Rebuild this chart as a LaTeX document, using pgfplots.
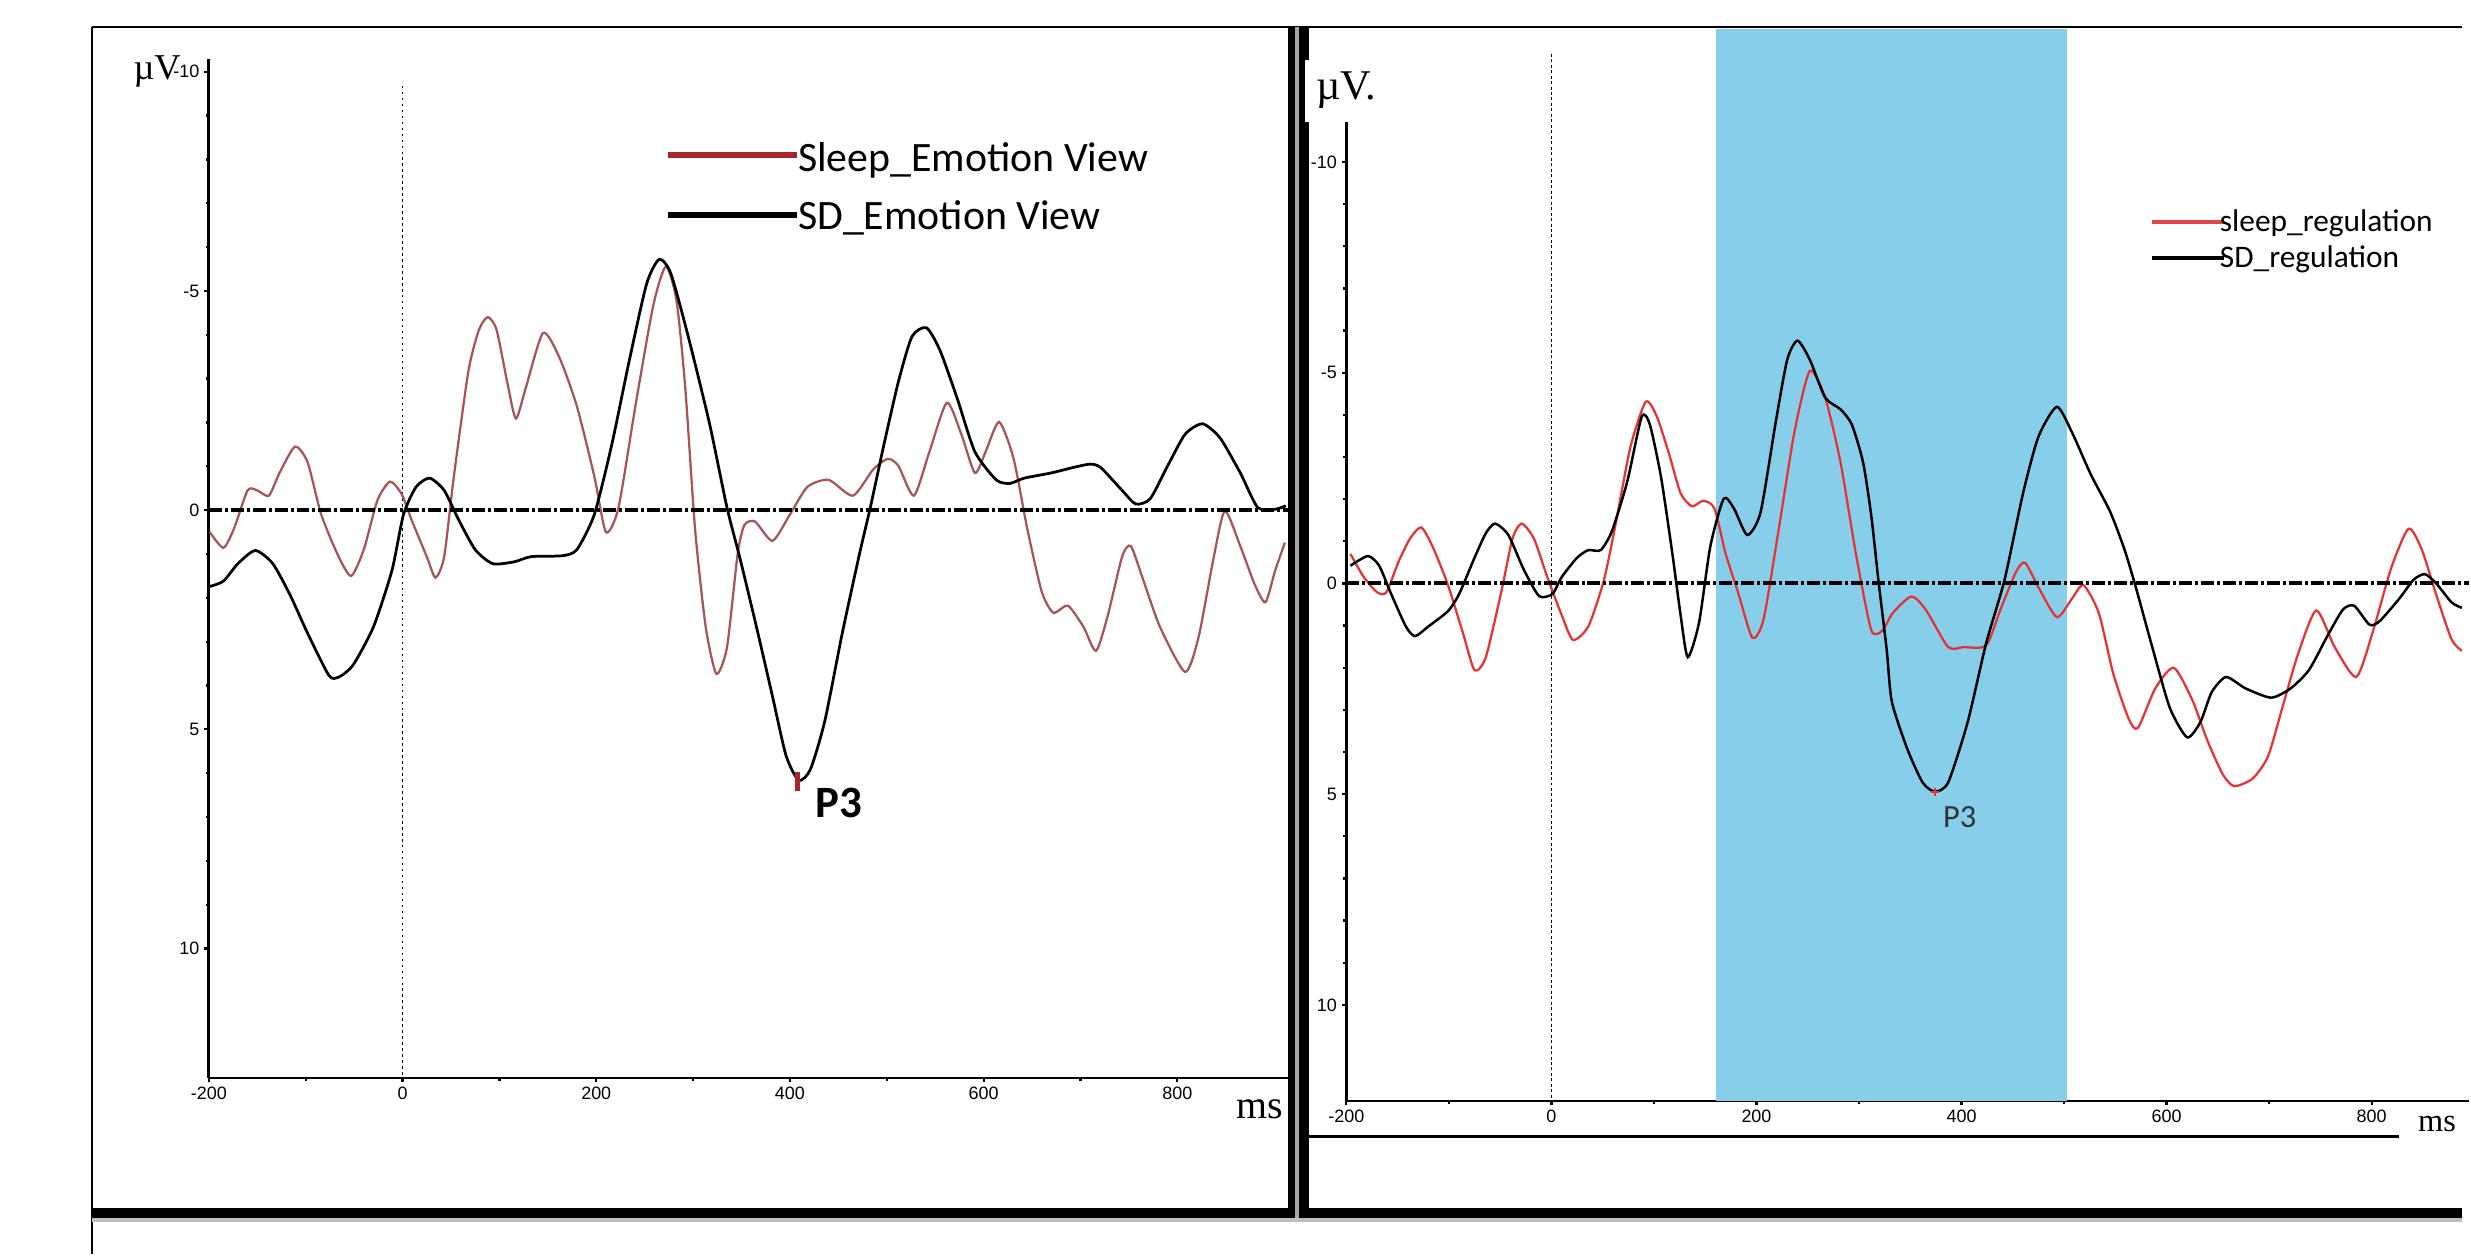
\documentclass[border=0pt]{standalone}
\usepackage{pgfplots}
\pgfplotsset{compat=1.18}
\usepackage{fontspec}
\setmainfont{Liberation Serif}
\newfontfamily\calfont{Carlito}
\newfontfamily\arialfont{Liberation Sans}
\definecolor{band}{RGB}{135,206,235}
\definecolor{lred}{RGB}{165,85,85}
\definecolor{lredleg}{RGB}{170,35,45}
\definecolor{rred}{RGB}{230,50,50}
\definecolor{rredleg}{RGB}{225,70,70}

\pgfplotsset{erp/.style={scale only axis, y dir=reverse,
  axis x line=bottom, axis y line=left,
  axis line style={-, line width=0.55pt},
  tick align=outside, major tick length=0.9pt, minor tick length=0.6pt,
  every tick/.style={black, line width=0.45pt},
  xtick={-200,0,200,400,600,800}, minor x tick num=1,
  ytick={-10,-5,0,5,10}, minor y tick num=4,
  /pgf/number format/assume math mode=true,
  ticklabel style={font=\arialfont\fontsize{3.6}{4}\selectfont, inner sep=0.8pt},
  clip=false}}

\begin{document}
\begin{tikzpicture}
\begin{scope}[x=0.2pt,y=-0.2pt]
\path[use as bounding box] (0,0) rectangle (2471,1259);
\end{scope}

% ---------- left panel ----------
\begin{axis}[erp, at={(150.2pt,-114.06pt)}, anchor=center,
  width=216.56pt, height=204.6pt,
  xmin=-200, xmax=914, ymin=-10.3, ymax=12.95]
\addplot[black, line width=0.35pt, dash pattern=on 0.5pt off 0.7pt] coordinates {(0,-9.68) (0,12.95)};
\addplot[lred, line width=0.45pt, smooth, tension=0.4] coordinates {
(-199,0.50) (-185,0.86) (-174,0.42) (-160,-0.45) (-150,-0.45) (-138,-0.33) (-127,-0.85) (-111,-1.45) (-98,-1.09) (-84,0.10) (-66,1.06) (-53,1.50) (-40,0.90) (-26,-0.22) (-13,-0.65) (-1,-0.37) (10,0.26) (25,1.06) (34,1.54) (43,1.06) (53,-0.77) (68,-3.17) (79,-4.12) (88,-4.40) (97,-4.12) (108,-2.93) (117,-2.09) (127,-2.77) (145,-4.04) (162,-3.48) (180,-2.37) (198,-0.77) (210,0.50) (223,-0.06) (241,-2.45) (259,-4.68) (272,-5.56) (283,-4.76) (292,-2.77) (302,0.42) (313,2.66) (324,3.73) (335,3.13) (346,1.00) (353,0.34) (364,0.26) (382,0.70) (400,0.10) (418,-0.53) (440,-0.69) (465,-0.33) (486,-0.93) (501,-1.17) (512,-1.01) (528,-0.33) (544,-1.33) (562,-2.45) (577,-1.73) (591,-0.85) (602,-1.33) (616,-2.01) (631,-1.17) (645,0.42) (660,1.86) (672,2.34) (687,2.18) (703,2.66) (716,3.21) (728,2.42) (743,1.06) (752,0.82) (764,1.54) (782,2.66) (808,3.69) (822,2.89) (837,1.14) (849,0.02) (865,0.82) (880,1.70) (891,2.10) (901,1.38) (911,0.74)};
\addplot[black, line width=0.55pt, smooth, tension=0.4] coordinates {
(-199,1.74) (-185,1.62) (-170,1.22) (-152,0.92) (-134,1.22) (-116,1.94) (-98,2.81) (-76,3.77) (-66,3.81) (-51,3.53) (-30,2.66) (-11,1.38) (1,0.10) (14,-0.53) (28,-0.73) (43,-0.45) (57,0.18) (75,0.90) (93,1.22) (115,1.18) (133,1.06) (165,1.04) (180,0.90) (198,0.10) (216,-1.49) (234,-3.40) (252,-5.16) (265,-5.72) (277,-5.40) (295,-3.96) (317,-1.97) (335,-0.06) (349,1.15) (367,2.81) (382,4.25) (396,5.60) (409,6.16) (421,5.92) (436,4.81) (454,2.81) (472,0.98) (483,-0.06) (497,-1.49) (512,-2.93) (526,-3.96) (541,-4.16) (555,-3.64) (573,-2.53) (591,-1.33) (613,-0.69) (627,-0.61) (642,-0.73) (670,-0.85) (692,-0.97) (710,-1.05) (721,-0.97) (743,-0.45) (757,-0.14) (772,-0.26) (790,-1.01) (808,-1.73) (826,-1.97) (844,-1.65) (865,-0.85) (883,-0.06) (901,-0.02) (912,-0.10)};
\addplot[black, line width=0.8pt, dash pattern=on 2.6pt off 0.6pt on 0.6pt off 0.6pt] coordinates {(-200,0) (914,0)};
\addplot[lredleg, only marks, mark=|, mark size=1.9pt, mark options={line width=1.1pt}] coordinates {(408,6.2)};
\node[anchor=base west, inner sep=0, font=\calfont\bfseries\fontsize{9}{10}\selectfont] at (axis cs:425,7.02) {P3};
\end{axis}

% ---------- right panel ----------
\begin{axis}[erp, at={(382.92pt,-122.78pt)}, anchor=center,
  width=225.35pt, height=196.44pt,
  xmin=-200, xmax=895, ymin=-10.94, ymax=12.28]
\addplot[fill=band, draw=none] coordinates {(161,-13.16) (503,-13.16) (503,12.28) (161,12.28)} -- cycle;
\addplot[black, line width=0.35pt, dash pattern=on 0.6pt off 0.5pt] coordinates {(0,-12.57) (0,12.28)};
\addplot[rred, line width=0.45pt, smooth, tension=0.4] coordinates {
(-196,-0.70) (-183,-0.15) (-170,0.21) (-161,0.21) (-149,-0.52) (-138,-1.06) (-127,-1.33) (-116,-0.88) (-101,0.03) (-86,1.20) (-75,2.06) (-64,1.75) (-49,0.21) (-38,-1.06) (-29,-1.42) (-17,-1.06) (-4,-0.15) (10,0.75) (21,1.34) (36,1.02) (51,-0.06) (62,-1.33) (77,-3.23) (92,-4.31) (103,-3.95) (115,-3.05) (126,-2.14) (137,-1.83) (148,-1.96) (159,-1.78) (170,-0.70) (182,0.21) (196,1.29) (207,0.84) (222,-1.33) (237,-3.59) (252,-5.04) (267,-4.41) (282,-2.87) (297,-0.70) (312,1.11) (323,1.11) (333,0.70) (351,0.31) (365,0.62) (387,1.51) (402,1.51) (424,1.47) (438,0.62) (453,-0.27) (462,-0.49) (475,0.09) (493,0.80) (508,0.35) (519,0.04) (534,0.71) (548,2.14) (563,3.21) (572,3.43) (589,2.49) (607,2.00) (625,2.76) (640,3.74) (655,4.54) (666,4.81) (684,4.63) (699,4.10) (713,2.94) (728,1.69) (746,0.64) (764,1.51) (785,2.22) (801,1.16) (819,-0.36) (836,-1.30) (849,-0.80) (863,0.27) (878,1.33) (888,1.60)};
\addplot[black, line width=0.5pt, smooth, tension=0.4] coordinates {
(-196,-0.42) (-179,-0.65) (-168,-0.42) (-157,0.21) (-142,1.02) (-133,1.25) (-120,1.02) (-101,0.66) (-90,0.25) (-75,-0.61) (-64,-1.19) (-55,-1.42) (-42,-1.15) (-27,-0.33) (-12,0.30) (1,0.25) (10,-0.15) (25,-0.61) (36,-0.79) (48,-0.79) (59,-1.24) (74,-2.42) (88,-3.95) (96,-3.77) (107,-2.51) (118,-0.70) (126,0.75) (133,1.75) (144,0.93) (155,-0.88) (168,-2.01) (178,-1.78) (191,-1.15) (204,-1.69) (219,-3.86) (230,-5.31) (240,-5.76) (252,-5.31) (267,-4.41) (282,-4.13) (293,-3.77) (304,-2.87) (312,-1.60) (319,-0.06) (327,1.57) (332,2.80) (347,3.92) (362,4.72) (374,4.94) (387,4.72) (406,3.29) (424,1.42) (442,-0.09) (460,-2.14) (475,-3.48) (493,-4.19) (508,-3.57) (526,-2.59) (545,-1.70) (559,-0.80) (570,0.09) (585,1.42) (603,2.94) (620,3.65) (633,3.29) (644,2.58) (658,2.22) (677,2.49) (702,2.71) (721,2.49) (739,2.05) (757,1.24) (772,0.62) (783,0.53) (798,0.98) (808,0.89) (827,0.36) (841,-0.09) (852,-0.22) (863,0.00) (878,0.45) (888,0.58)};
\addplot[black, line width=0.8pt, dash pattern=on 2.6pt off 0.6pt on 0.6pt off 0.6pt] coordinates {(-200,0) (895,0)};
\addplot[rred, only marks, mark=+, mark size=0.8pt, mark options={line width=0.4pt}] coordinates {(374,4.94)};
\node[anchor=base west, inner sep=0, text=black!80, font=\calfont\fontsize{6.5}{7}\selectfont] at (axis cs:381,5.80) {P3};
\end{axis}

% ---------- frame, labels, legends ----------
\begin{scope}[x=0.2pt,y=-0.2pt]
\draw[line width=0.4pt] (92,27) -- (2471,27);
\draw[line width=0.4pt] (92,27) -- (92,1259);
\fill[black] (92,1212) rectangle (2471,1222);
\fill[black!25] (92,1222) rectangle (2471,1226);
\fill[black] (1293,27) rectangle (1314,1222);
\fill[black!35] (1300,27) rectangle (1304,1222);
\fill[white] (1310,60) rectangle (1385,122);
\draw[line width=0.6pt] (1313,1141) -- (2408,1141);
\node[anchor=base west, inner sep=0, font=\fontsize{7.3}{8}\selectfont] at (133,80) {µV};
\node[anchor=base west, inner sep=0, font=\fontsize{8.5}{9}\selectfont] at (1320,100) {µV.};
\node[anchor=base west, inner sep=0, font=\fontsize{8}{9}\selectfont] at (1240,1123) {ms};
\node[anchor=base west, inner sep=0, font=\fontsize{6.5}{7}\selectfont] at (2426,1136) {ms};
\draw[lredleg, line width=1.2pt] (670,156) -- (800,156);
\node[anchor=base west, inner sep=0, font=\calfont\fontsize{8.4}{10}\selectfont] at (800,172) {Sleep\_Emotion View};
\draw[black, line width=1.2pt] (670,216) -- (800,216);
\node[anchor=base west, inner sep=0, font=\calfont\fontsize{8.4}{10}\selectfont] at (800,230) {SD\_Emotion View};
\draw[rredleg, line width=0.7pt] (2160,223) -- (2232,223);
\node[anchor=base west, inner sep=0, font=\calfont\fontsize{6.3}{7}\selectfont] at (2227,232) {sleep\_regulation};
\draw[black, line width=0.7pt] (2160,259) -- (2232,259);
\node[anchor=base west, inner sep=0, font=\calfont\fontsize{6.3}{7}\selectfont] at (2227,268) {SD\_regulation};
\end{scope}
\end{tikzpicture}
\end{document}
